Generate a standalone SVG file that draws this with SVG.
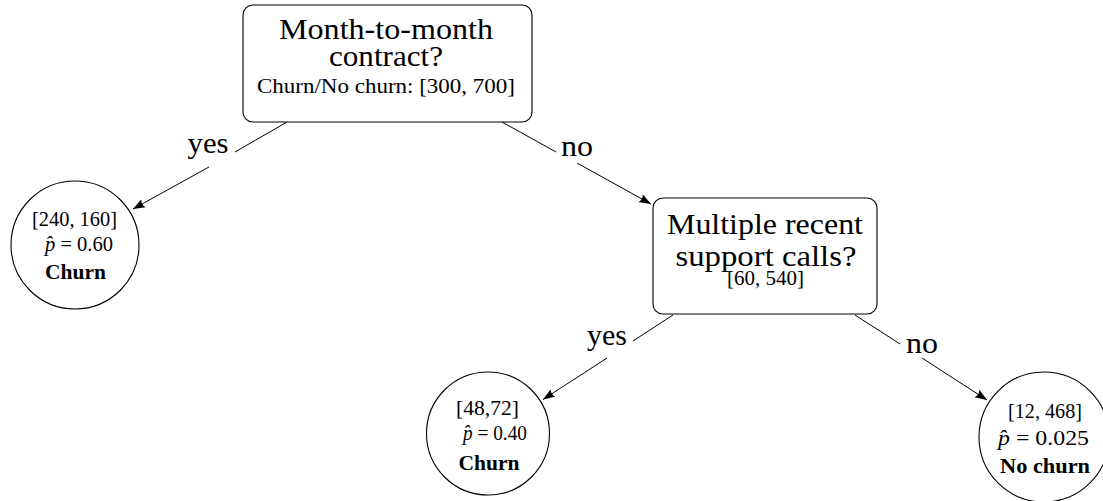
<svg xmlns="http://www.w3.org/2000/svg" width="1103" height="501" viewBox="0 0 1103 501">
<style>
text{font-family:"Liberation Serif","Times New Roman",serif;fill:#000;text-anchor:middle}
.big{font-size:30px}
.sm{font-size:21px}
.b{font-weight:bold}
.box{fill:#fff;stroke:#000;stroke-width:1.1}
.edge{fill:none;stroke:#000;stroke-width:1}
</style>
<defs>
<marker id="arr" markerUnits="userSpaceOnUse" markerWidth="13" markerHeight="10" refX="12" refY="5" orient="auto">
<path d="M0,0.5 L12,5 L0,9.5 Q3,5 0,0.5 z" fill="#000"/>
</marker>
</defs>
<rect width="1103" height="501" fill="#fff"/>
<g id="connectors">
<path class="edge" d="M287,122 L235,152"/>
<path class="edge" d="M209,167 L133,209" marker-end="url(#arr)"/>
<path class="edge" d="M502,122 L556,152"/>
<path class="edge" d="M577,163 L651,204" marker-end="url(#arr)"/>
<path class="edge" d="M673,315 L633,341"/>
<path class="edge" d="M607,358 L543,399.5" marker-end="url(#arr)"/>
<path class="edge" d="M855,315 L900,344"/>
<path class="edge" d="M922,358 L987,400" marker-end="url(#arr)"/>
<text class="big" x="208" y="153" textLength="41" lengthAdjust="spacingAndGlyphs">yes</text>
<text class="big" x="577" y="156" textLength="32" lengthAdjust="spacingAndGlyphs">no</text>
<text class="big" x="607" y="345" textLength="40" lengthAdjust="spacingAndGlyphs">yes</text>
<text class="big" x="922" y="353" textLength="32" lengthAdjust="spacingAndGlyphs">no</text>
</g>
<g id="root">
<rect class="box" x="243" y="5" width="289" height="117" rx="10"/>
<text class="big" x="386" y="39" textLength="214" lengthAdjust="spacingAndGlyphs">Month-to-month</text>
<text class="big" x="386" y="66" textLength="114" lengthAdjust="spacingAndGlyphs">contract?</text>
<text class="sm" x="386" y="93" textLength="258" lengthAdjust="spacingAndGlyphs">Churn/No churn: [300, 700]</text>
</g>
<g id="leaf-left">
<circle class="box" cx="75" cy="245" r="64"/>
<text class="sm" x="74.5" y="226" textLength="85" lengthAdjust="spacingAndGlyphs">[240, 160]</text>
<text class="sm" x="79" y="251" textLength="68" lengthAdjust="spacingAndGlyphs"><tspan font-style="italic">p̂</tspan> = 0.60</text>
<text class="sm b" x="75.5" y="279" textLength="61" lengthAdjust="spacingAndGlyphs">Churn</text>
</g>
<g id="support">
<rect class="box" x="653" y="198" width="224" height="116" rx="10"/>
<text class="big" x="765" y="234" textLength="196" lengthAdjust="spacingAndGlyphs">Multiple recent</text>
<text class="big" x="766" y="266" textLength="181" lengthAdjust="spacingAndGlyphs">support calls?</text>
<text class="sm" x="765.5" y="285" textLength="77" lengthAdjust="spacingAndGlyphs">[60, 540]</text>
</g>
<g id="leaf-mid">
<circle class="box" cx="488" cy="433.5" r="61.5"/>
<text class="sm" x="487.5" y="415" textLength="63" lengthAdjust="spacingAndGlyphs">[48,72]</text>
<text class="sm" x="495" y="440" textLength="64" lengthAdjust="spacingAndGlyphs"><tspan font-style="italic">p̂</tspan> = 0.40</text>
<text class="sm b" x="489" y="470" textLength="61" lengthAdjust="spacingAndGlyphs">Churn</text>
</g>
<g id="leaf-right">
<circle class="box" cx="1044" cy="437" r="65"/>
<text class="sm" x="1045" y="418" textLength="74" lengthAdjust="spacingAndGlyphs">[12, 468]</text>
<text class="sm" x="1043.5" y="445" textLength="91" lengthAdjust="spacingAndGlyphs"><tspan font-style="italic">p̂</tspan> = 0.025</text>
<text class="sm b" x="1045" y="473" textLength="90" lengthAdjust="spacingAndGlyphs">No churn</text>
</g>
</svg>
